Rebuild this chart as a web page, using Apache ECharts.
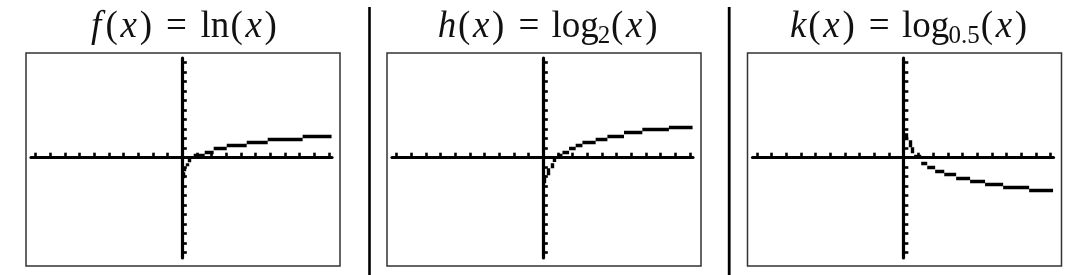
<!DOCTYPE html>
<html><head><meta charset="utf-8">
<script src="https://cdn.jsdelivr.net/npm/echarts@6/dist/echarts.min.js"></script>
<style>html,body{margin:0;padding:0;background:#fff}#c{width:1081px;height:275px}</style>
</head><body><div id="c"></div>
<script>
// ---- data ----
const xTicks = [-10,-9,-8,-7,-6,-5,-4,-3,-2,-1,0,1,2,3,4,5,6,7,8,9,10];
const yTicks = [-10,-9,-8,-7,-6,-5,-4,-3,-2,-1,0,1,2,3,4,5,6,7,8,9,10];
// pixel-step pieces of each graph: [x1, y1, x2, y2]
const lnSegments = [
  [0.07,-2.21,0.07,-1.58],[0.17,-1.47,0.17,-1.05],[0.31,-0.95,0.31,-0.63],[0.51,-0.53,0.51,-0.11],
  [0.78,0.21,1.53,0.21],[1.53,0.58,2.14,0.58],[2.14,0.95,3.03,0.95],[3.03,1.26,4.39,1.26],
  [4.39,1.61,5.82,1.61],[5.82,1.92,8.2,1.92],[8.2,2.24,10.17,2.24]
];
const log2Segments = [
  [0.1,-2.74,0.1,-1.89],[0.34,-1.89,0.34,-1.16],[0.58,-1.16,0.58,-0.63],[0.78,-0.49,0.78,-0.11],
  [0.97,0.21,1.31,0.21],[1.31,0.56,1.76,0.56],[1.76,0.92,2.21,0.92],[2.21,1.26,2.67,1.26],
  [2.67,1.61,3.57,1.61],[3.57,1.89,4.37,1.89],[4.37,2.24,5.5,2.24],[5.5,2.6,6.75,2.6],
  [6.75,2.95,8.56,2.95],[8.56,3.19,10.17,3.19]
];
const logHalfSegments = [
  [0.17,2.53,0.17,1.79],[0.41,1.79,0.41,1.05],[0.61,1.05,0.61,0.42],[0.71,0.15,1.19,0.15],
  [1.19,-0.63,1.6,-0.63],[1.6,-1.05,2.14,-1.05],[2.14,-1.44,2.76,-1.44],[2.76,-1.79,3.57,-1.79],
  [3.57,-2.16,4.52,-2.16],[4.52,-2.49,5.54,-2.49],[5.54,-2.84,6.77,-2.84],[6.77,-3.14,8.54,-3.14],
  [8.54,-3.47,10.17,-3.47]
];
const titleLn = [['f','i'],['(','r'],['x','i'],[')','r'],['=','r'],['ln','r'],['(','r'],['x','i'],[')','r']];
const titleLog2 = [['h','i'],['(','r'],['x','i'],[')','r'],['=','r'],['log','r'],['2','s'],['(','r'],['x','i'],[')','r']];
const titleLogHalf = [['k','i'],['(','r'],['x','i'],[')','r'],['=','r'],['log','r'],['0.5','s'],['(','r'],['x','i'],[')','r']];

// ---- layout ----
const panels = [
  {segs: lnSegments, title: titleLn, boxLeft: 26, titleX: 182.5},
  {segs: log2Segments, title: titleLog2, boxLeft: 387, titleX: 547.5},
  {segs: logHalfSegments, title: titleLogHalf, boxLeft: 747.5, titleX: 908.5}
];
const X_MIN = -10.3, X_MAX = 10.2, Y_MIN = -10.6, Y_MAX = 10.45;
const EM = 35.5;
const glyphEm = {'f':0.49,'h':0.576,'k':0.521,'x':0.572,'(':0.389,')':0.389,'=':1.334,'ln':0.834,'log':1.278,'2':0.35,'0.5':0.895};
const FONT = 'Liberation Serif';

const grids = [], xAxes = [], yAxes = [], series = [], titles = [], graphics = [];
panels.forEach((p, i) => {
  grids.push({left: p.boxLeft + 5, top: 58, width: 301, height: 200, containLabel: false});
  xAxes.push({
    gridIndex: i, type: 'value', min: X_MIN, max: X_MAX,
    axisLine: {show: true, onZero: true, lineStyle: {color: '#000', width: 3.2}},
    axisTick: {show: true, inside: true, length: 4.6, customValues: xTicks, lineStyle: {color: '#000', width: 2.6}},
    axisLabel: {show: false}, splitLine: {show: false}
  });
  yAxes.push({
    gridIndex: i, type: 'value', min: Y_MIN, max: Y_MAX,
    axisLine: {show: true, onZero: true, lineStyle: {color: '#000', width: 3.2}},
    axisTick: {show: true, inside: true, length: 4.6, customValues: yTicks, lineStyle: {color: '#000', width: 2.6}},
    axisLabel: {show: false}, splitLine: {show: false}
  });
  series.push({
    type: 'lines', coordinateSystem: 'cartesian2d', xAxisIndex: i, yAxisIndex: i,
    polyline: false, silent: true, z: 5,
    lineStyle: {color: '#000', width: 3.4, opacity: 1, curveness: 0, cap: 'butt'},
    data: p.segs.map(s => ({coords: [[s[0], s[1]], [s[2], s[3]]]}))
  });
  // title as rich text with fixed glyph widths
  const rich = {};
  let text = '';
  p.title.forEach((t, j) => {
    const name = 't' + j;
    const w = glyphEm[t[0]] * EM;
    if (t[1] === 's') {
      rich[name] = {fontFamily: FONT, fontSize: 25, fontWeight: 'normal', lineHeight: 17, verticalAlign: 'bottom', width: w, align: 'center', color: '#111'};
    } else {
      rich[name] = {fontFamily: FONT, fontSize: 37, fontWeight: 'normal', lineHeight: 44, fontStyle: t[1] === 'i' ? 'italic' : 'normal', width: w, align: 'center', color: '#111'};
    }
    text += '{' + name + '|' + t[0] + '}';
  });
  titles.push({text: text, left: p.titleX, top: 5, textAlign: 'center', padding: 0, textStyle: {rich: rich, fontFamily: FONT, fontSize: 37, fontWeight: 'normal'}});
  graphics.push({type: 'rect', silent: true, shape: {x: p.boxLeft, y: 53, width: 314, height: 213}, style: {fill: 'none', stroke: '#333', lineWidth: 1.5}});
});
graphics.push({type: 'line', silent: true, shape: {x1: 369.5, y1: 7, x2: 369.5, y2: 275}, style: {stroke: '#000', lineWidth: 2.6}});
graphics.push({type: 'line', silent: true, shape: {x1: 729.2, y1: 7, x2: 729.2, y2: 275}, style: {stroke: '#000', lineWidth: 2.8}});

const chart = echarts.init(document.getElementById('c'));
chart.setOption({
  backgroundColor: '#fff', animation: false,
  title: titles, grid: grids, xAxis: xAxes, yAxis: yAxes, series: series, graphic: graphics
});
</script></body></html>
